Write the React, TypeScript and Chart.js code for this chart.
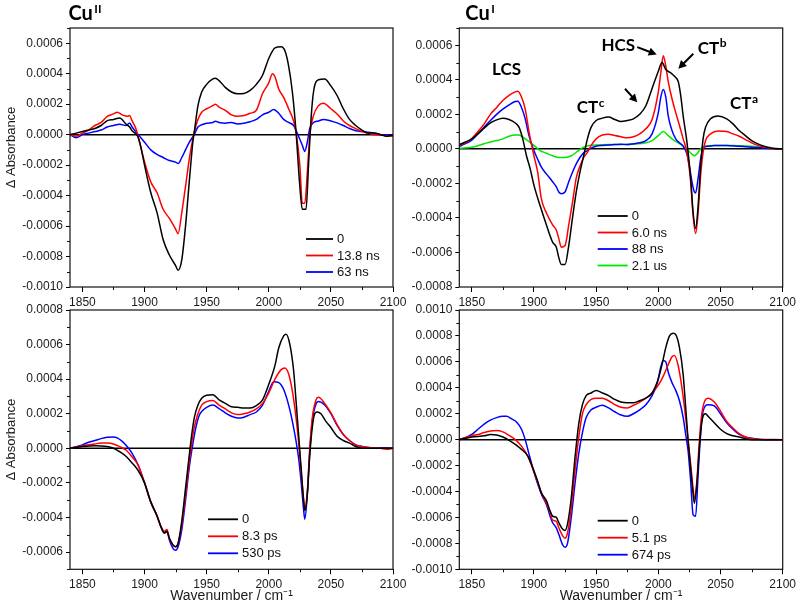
import React, { useEffect, useRef } from 'react';
import { Chart, registerables } from 'chart.js';

Chart.register(...registerables);

const SANS = '"Liberation Sans", Arial, sans-serif';
const BOLD = 'Lato, "Liberation Sans", sans-serif';

// ---------- axis ticks ----------
const xTickValues = [1850, 1900, 1950, 2000, 2050, 2100];
const xMinorValues = [1875, 1925, 1975, 2025, 2075];
const yTicksCuIIns = [-0.001, -0.0008, -0.0006, -0.0004, -0.0002, 0, 0.0002, 0.0004, 0.0006];
const yTicksCuIns = [-0.0008, -0.0006, -0.0004, -0.0002, 0, 0.0002, 0.0004, 0.0006];
const yTicksCuIIps = [-0.0006, -0.0004, -0.0002, 0, 0.0002, 0.0004, 0.0006, 0.0008];
const yTicksCuIps = [-0.001, -0.0008, -0.0006, -0.0004, -0.0002, 0, 0.0002, 0.0004, 0.0006, 0.0008, 0.001];

// ---------- Cu(II), ns (top left) ----------
const cuIIns0 = [[1840,0],[1845,0.00001],[1850,0.00002],[1855,0.00003],[1860,0.00004],[1865,0.00006],[1870,0.000092],[1875,0.0001],[1880,0.00011],[1885,0.00007],[1888,0.00005],[1890,0.000025],[1893,0.000005],[1895,-0.00002],[1897,-0.00008],[1900,-0.0002],[1905,-0.00038],[1910,-0.00051],[1915,-0.00069],[1920,-0.00079],[1925,-0.00086],[1927,-0.00089],[1930,-0.00082],[1933,-0.0006],[1936,-0.00031],[1939,-0.00004],[1940,0.000015],[1943,0.00019],[1946,0.00028],[1950,0.00033],[1955,0.000366],[1957,0.00037],[1960,0.000355],[1965,0.00031],[1970,0.00028],[1975,0.000268],[1980,0.00027],[1985,0.00029],[1990,0.00033],[1995,0.00039],[2000,0.0005],[2005,0.00057],[2010,0.000577],[2013,0.00055],[2016,0.00045],[2019,0.00028],[2022,0.000015],[2025,-0.00034],[2027,-0.00049],[2030,-0.00049],[2032,-0.0002],[2034,0.0001],[2036,0.00028],[2040,0.00036],[2045,0.000366],[2050,0.00032],[2055,0.000257],[2060,0.00017],[2065,0.0001],[2070,0.00006],[2075,0.00003],[2080,0.00001],[2085,0.00001],[2090,0],[2095,-0.00001],[2100,0]];
const cuIIns13 = [[1840,0],[1845,-0.00001],[1850,0.00001],[1855,0.00003],[1860,0.00006],[1865,0.00008],[1870,0.00012],[1875,0.000136],[1878,0.000147],[1882,0.00013],[1886,0.00012],[1888,0.000125],[1890,0.00009],[1893,0.00004],[1896,-0.00005],[1900,-0.00018],[1905,-0.00031],[1910,-0.00038],[1915,-0.00049],[1920,-0.00055],[1925,-0.00062],[1927,-0.00065],[1930,-0.00051],[1933,-0.00034],[1936,-0.00016],[1940,0.000015],[1943,0.0001],[1946,0.000147],[1950,0.00017],[1955,0.00019],[1957,0.0002],[1960,0.00018],[1965,0.00016],[1970,0.00013],[1975,0.00012],[1980,0.000125],[1985,0.00014],[1990,0.00016],[1995,0.00027],[2000,0.00034],[2003,0.0004],[2005,0.00038],[2008,0.0003],[2012,0.000245],[2016,0.00017],[2020,0.00009],[2022,0.000015],[2025,-0.0002],[2027,-0.00045],[2029,-0.00045],[2031,-0.00025],[2033,-0.000007],[2036,0.000125],[2040,0.00019],[2044,0.000206],[2050,0.00017],[2055,0.000136],[2060,0.00009],[2065,0.00006],[2070,0.00004],[2075,0.00002],[2080,0.00001],[2085,0],[2090,0],[2095,-0.00001],[2100,-0.00001]];
const cuIIns63 = [[1840,0],[1845,-0.00002],[1850,0],[1855,0.00001],[1860,0.00002],[1865,0.00003],[1870,0.00005],[1875,0.00006],[1880,0.000068],[1885,0.00006],[1888,0.000077],[1890,0.00005],[1895,0],[1900,-0.00005],[1905,-0.0001],[1910,-0.00013],[1915,-0.00015],[1920,-0.00017],[1925,-0.00018],[1927,-0.00019],[1930,-0.00015],[1933,-0.0001],[1936,-0.00005],[1940,0],[1943,0.00005],[1946,0.000065],[1950,0.000075],[1955,0.00008],[1957,0.000088],[1960,0.00008],[1965,0.000075],[1970,0.00008],[1975,0.00007],[1980,0.000075],[1985,0.000085],[1990,0.0001],[1995,0.00013],[2000,0.000147],[2004,0.000165],[2008,0.00014],[2012,0.0001],[2016,0.00008],[2020,0.00006],[2022,0.000026],[2025,-0.00003],[2027,-0.00007],[2029,-0.00011],[2031,-0.00005],[2033,0.00004],[2036,0.00008],[2040,0.00009],[2044,0.0001],[2050,0.00009],[2055,0.000077],[2060,0.00006],[2065,0.00004],[2070,0.000026],[2075,0.00002],[2080,0.000015],[2085,0.00001],[2090,0],[2100,0]];

// ---------- Cu(I), ns (top right) ----------
const cuIns0 = [[1840,0.000025],[1845,0.00004],[1850,0.000058],[1855,0.000087],[1860,0.00012],[1865,0.00015],[1870,0.000168],[1875,0.000178],[1880,0.00017],[1885,0.00015],[1888,0.000126],[1891,0.000058],[1894,-0.00004],[1897,-0.000116],[1900,-0.00021],[1905,-0.00033],[1910,-0.00044],[1915,-0.00054],[1918,-0.00057],[1920,-0.00063],[1922,-0.00067],[1925,-0.00067],[1928,-0.00056],[1931,-0.0004],[1934,-0.00025],[1937,-0.000135],[1940,-0.00004],[1943,0.000058],[1946,0.000126],[1950,0.000164],[1955,0.000178],[1960,0.000184],[1965,0.00017],[1970,0.000158],[1975,0.000164],[1980,0.000174],[1985,0.0002],[1990,0.00025],[1995,0.00035],[2000,0.00045],[2003,0.0005],[2006,0.00046],[2010,0.00044],[2013,0.00042],[2016,0.00039],[2018,0.00031],[2020,0.00019],[2023,0.00004],[2026,-0.00017],[2028,-0.00037],[2030,-0.00046],[2032,-0.00033],[2034,-0.0001],[2036,0.000058],[2038,0.000126],[2042,0.000174],[2048,0.00019],[2055,0.000174],[2060,0.000145],[2065,0.000106],[2070,0.000077],[2075,0.000048],[2080,0.000029],[2085,0.000015],[2090,0.000006],[2095,0],[2100,0]];
const cuIns6 = [[1840,0.00002],[1845,0.000035],[1850,0.00006],[1855,0.0001],[1860,0.000145],[1865,0.0002],[1870,0.00024],[1875,0.00028],[1880,0.00031],[1885,0.00033],[1887,0.000334],[1890,0.0003],[1893,0.00023],[1896,0.0001],[1900,-0.00004],[1903,-0.000135],[1906,-0.00029],[1910,-0.00037],[1915,-0.00044],[1918,-0.00047],[1920,-0.00052],[1922,-0.00057],[1925,-0.00056],[1928,-0.00044],[1931,-0.00031],[1934,-0.00017],[1937,-0.0001],[1940,-0.00005],[1943,-0.00002],[1946,0.00002],[1950,0.000058],[1955,0.00008],[1960,0.000085],[1965,0.000077],[1970,0.00007],[1975,0.000064],[1980,0.00007],[1985,0.000087],[1990,0.000116],[1995,0.00017],[2000,0.00033],[2002,0.00044],[2004,0.00054],[2006,0.00048],[2008,0.00039],[2011,0.00029],[2014,0.00021],[2017,0.000135],[2020,0.000058],[2023,-0.00002],[2026,-0.00019],[2028,-0.00039],[2030,-0.00049],[2032,-0.00037],[2034,-0.000155],[2036,-0.00002],[2038,0.000048],[2042,0.000087],[2048,0.000104],[2055,0.0001],[2060,0.000087],[2065,0.000073],[2070,0.000054],[2075,0.000035],[2080,0.00002],[2085,0.00001],[2090,0.000004],[2100,0]];
const cuIns88 = [[1840,0.000015],[1845,0.00003],[1850,0.00005],[1855,0.000087],[1860,0.000126],[1865,0.000164],[1870,0.0002],[1875,0.00023],[1880,0.000255],[1885,0.000274],[1887,0.000276],[1890,0.00024],[1893,0.000174],[1896,0.000077],[1900,-0.00001],[1903,-0.00006],[1906,-0.000106],[1910,-0.000145],[1915,-0.00019],[1918,-0.00022],[1920,-0.00025],[1922,-0.00026],[1925,-0.00025],[1928,-0.00019],[1931,-0.000135],[1934,-0.000087],[1937,-0.00005],[1940,-0.000023],[1943,-0.00001],[1946,0.000004],[1950,0.000015],[1955,0.00002],[1960,0.000023],[1965,0.000025],[1970,0.000027],[1975,0.000025],[1980,0.00003],[1985,0.000035],[1990,0.000048],[1995,0.000087],[2000,0.00021],[2002,0.0003],[2004,0.000344],[2006,0.0003],[2008,0.00019],[2011,0.000106],[2014,0.000058],[2017,0.000035],[2020,0.000015],[2023,-0.00003],[2025,-0.0001],[2027,-0.00019],[2029,-0.00025],[2030,-0.000255],[2032,-0.00017],[2034,-0.00006],[2036,0.000004],[2040,0.000015],[2045,0.00002],[2055,0.00002],[2065,0.000015],[2075,0.00001],[2085,0.000004],[2100,0]];
const cuIns2100 = [[1840,0.000004],[1850,0.00001],[1860,0.00003],[1865,0.00004],[1870,0.000048],[1875,0.000058],[1880,0.000073],[1885,0.00008],[1888,0.00008],[1890,0.000073],[1895,0.000048],[1900,0.00002],[1905,-0.00001],[1910,-0.000025],[1915,-0.00004],[1920,-0.00005],[1925,-0.00005],[1930,-0.00004],[1935,-0.000015],[1940,0.00001],[1945,0.00002],[1950,0.000023],[1960,0.000025],[1970,0.000025],[1980,0.000027],[1990,0.000035],[1995,0.000048],[2000,0.000077],[2004,0.0001],[2008,0.000077],[2012,0.000052],[2016,0.000035],[2020,0.000015],[2024,-0.00001],[2027,-0.00003],[2029,-0.00004],[2031,-0.00003],[2034,0],[2037,0.000015],[2045,0.00002],[2060,0.00002],[2075,0.000015],[2085,0.000008],[2100,0]];

// ---------- Cu(II), ps (bottom left) ----------
const cuIIps0 = [[1840,0],[1850,0.00001],[1860,0.000015],[1870,0.00001],[1875,0],[1880,-0.00002],[1885,-0.000046],[1890,-0.000085],[1895,-0.00013],[1900,-0.0002],[1905,-0.00031],[1910,-0.00039],[1913,-0.00045],[1916,-0.00049],[1918,-0.00048],[1920,-0.00052],[1923,-0.00056],[1925,-0.00057],[1927,-0.00055],[1930,-0.00042],[1933,-0.00023],[1936,-0.00004],[1938,0.00008],[1940,0.000175],[1943,0.00025],[1946,0.00029],[1950,0.000307],[1955,0.00031],[1960,0.00028],[1965,0.00026],[1970,0.00024],[1975,0.000237],[1980,0.000233],[1985,0.000233],[1990,0.000247],[1995,0.00028],[2000,0.00037],[2005,0.00048],[2008,0.00058],[2012,0.00065],[2014,0.00066],[2017,0.0006],[2020,0.00045],[2022,0.00027],[2024,0.00008],[2026,-0.00011],[2028,-0.0003],[2029,-0.00036],[2031,-0.00027],[2033,-0.00004],[2035,0.00012],[2037,0.0002],[2039,0.00021],[2042,0.0002],[2046,0.000156],[2050,0.00012],[2055,0.00007],[2060,0.000045],[2065,0.00003],[2070,0.00001],[2075,0],[2085,0],[2100,0]];
const cuIIps8 = [[1840,0],[1850,0.000015],[1860,0.000025],[1865,0.00003],[1870,0.00003],[1875,0.000025],[1880,0.00001],[1885,-0.00001],[1890,-0.00005],[1895,-0.0001],[1900,-0.0002],[1905,-0.00031],[1910,-0.00039],[1913,-0.00045],[1916,-0.00048],[1918,-0.00047],[1920,-0.00052],[1923,-0.00056],[1925,-0.00057],[1927,-0.00055],[1930,-0.00044],[1933,-0.00027],[1936,-0.00008],[1938,0.00003],[1940,0.00012],[1943,0.0002],[1946,0.00025],[1950,0.00027],[1955,0.000276],[1960,0.00025],[1965,0.000228],[1970,0.000205],[1975,0.000195],[1980,0.0002],[1985,0.00021],[1990,0.000228],[1995,0.00026],[2000,0.00032],[2005,0.0004],[2010,0.000455],[2013,0.000465],[2016,0.00043],[2019,0.00033],[2022,0.000175],[2024,0.00004],[2026,-0.00013],[2028,-0.00029],[2029,-0.00035],[2031,-0.00025],[2033,0],[2035,0.000175],[2038,0.00028],[2040,0.000295],[2045,0.00026],[2050,0.000205],[2055,0.000137],[2060,0.00008],[2065,0.000045],[2070,0.00002],[2075,0.00001],[2080,0.000005],[2090,0],[2095,-0.000005],[2100,0]];
const cuIIps530 = [[1840,0],[1850,0.00002],[1855,0.000035],[1860,0.000045],[1865,0.000056],[1870,0.000064],[1875,0.000066],[1878,0.00006],[1882,0.00004],[1886,0.00001],[1890,-0.00003],[1895,-0.0001],[1900,-0.0002],[1905,-0.00031],[1910,-0.00039],[1913,-0.00045],[1916,-0.00049],[1918,-0.00048],[1920,-0.00053],[1923,-0.00058],[1925,-0.00059],[1927,-0.00057],[1930,-0.00047],[1933,-0.0003],[1936,-0.00011],[1939,0.00003],[1941,0.00011],[1944,0.00019],[1947,0.00022],[1950,0.000237],[1955,0.00025],[1960,0.00023],[1965,0.000205],[1970,0.000185],[1975,0.000175],[1980,0.00018],[1985,0.000195],[1990,0.00021],[1995,0.00025],[2000,0.00033],[2004,0.000385],[2008,0.00038],[2012,0.00034],[2016,0.00025],[2019,0.000156],[2022,0.00004],[2024,-0.000056],[2026,-0.00019],[2028,-0.00035],[2029,-0.00041],[2031,-0.00027],[2033,-0.00002],[2035,0.000156],[2038,0.000257],[2040,0.00027],[2045,0.00025],[2050,0.0002],[2055,0.000133],[2060,0.00008],[2065,0.000045],[2070,0.00002],[2075,0.00001],[2080,0.000005],[2100,0]];

// ---------- Cu(I), ps (bottom right) ----------
const cuIps0 = [[1840,0],[1850,0.00002],[1860,0.00003],[1865,0.00004],[1870,0.000036],[1875,0.00002],[1880,-0.000005],[1885,-0.000036],[1890,-0.000075],[1895,-0.000126],[1900,-0.00024],[1903,-0.00032],[1906,-0.00041],[1910,-0.00047],[1913,-0.00055],[1915,-0.00059],[1918,-0.0006],[1920,-0.00064],[1923,-0.00069],[1925,-0.0007],[1927,-0.00065],[1930,-0.00045],[1933,-0.00014],[1936,0.00012],[1939,0.00027],[1942,0.00034],[1946,0.00036],[1950,0.00038],[1955,0.00036],[1960,0.00034],[1965,0.00031],[1970,0.00029],[1975,0.000285],[1980,0.000285],[1985,0.0003],[1990,0.00032],[1995,0.00036],[2000,0.00047],[2003,0.00058],[2006,0.00071],[2009,0.0008],[2012,0.00082],[2014,0.00081],[2017,0.00071],[2020,0.0005],[2022,0.00025],[2024,-0.00001],[2026,-0.00022],[2028,-0.00042],[2029,-0.00049],[2031,-0.00034],[2033,-0.00006],[2035,0.00014],[2038,0.0002],[2040,0.00018],[2045,0.00013],[2050,0.00008],[2055,0.000046],[2060,0.00003],[2065,0.00002],[2070,0.000008],[2075,0],[2100,0]];
const cuIps5 = [[1840,0],[1850,0.00003],[1855,0.00004],[1860,0.000055],[1865,0.000067],[1870,0.00007],[1875,0.00006],[1880,0.000033],[1885,0],[1890,-0.00005],[1895,-0.000126],[1900,-0.00025],[1903,-0.00033],[1906,-0.00041],[1910,-0.00049],[1913,-0.00056],[1915,-0.00062],[1918,-0.00063],[1920,-0.00068],[1923,-0.00074],[1925,-0.00076],[1927,-0.00072],[1930,-0.00053],[1933,-0.00024],[1936,0.000015],[1939,0.0002],[1942,0.00027],[1946,0.00031],[1950,0.00032],[1955,0.00032],[1960,0.0003],[1965,0.00027],[1970,0.00025],[1975,0.000245],[1980,0.000265],[1985,0.00029],[1990,0.00032],[1995,0.00036],[2000,0.00042],[2004,0.00049],[2008,0.00058],[2011,0.00064],[2013,0.00065],[2016,0.00057],[2019,0.0004],[2022,0.00017],[2024,-0.00001],[2026,-0.00019],[2028,-0.00038],[2029,-0.00045],[2031,-0.00032],[2033,-0.00001],[2035,0.0002],[2038,0.00031],[2040,0.00032],[2045,0.00029],[2050,0.00022],[2055,0.00014],[2060,0.00009],[2065,0.000046],[2070,0.00002],[2075,0.000008],[2080,0.000004],[2100,0]];
const cuIps674 = [[1840,0],[1845,0.000015],[1850,0.00004],[1855,0.00008],[1860,0.00012],[1865,0.00015],[1870,0.00017],[1875,0.00018],[1878,0.00018],[1882,0.00016],[1886,0.000136],[1890,0.00008],[1893,0],[1896,-0.00011],[1900,-0.00025],[1903,-0.00034],[1906,-0.00042],[1910,-0.0005],[1913,-0.00059],[1915,-0.00064],[1918,-0.00068],[1920,-0.00073],[1923,-0.00081],[1925,-0.00083],[1927,-0.0008],[1930,-0.0006],[1933,-0.00034],[1936,-0.00011],[1939,0.000054],[1942,0.00017],[1946,0.00023],[1950,0.00025],[1955,0.000265],[1960,0.000245],[1965,0.000215],[1970,0.00019],[1975,0.00018],[1980,0.0002],[1985,0.00023],[1990,0.00027],[1995,0.00034],[1999,0.00043],[2002,0.00056],[2004,0.00061],[2006,0.0006],[2008,0.00052],[2011,0.00044],[2014,0.00038],[2017,0.0003],[2020,0.00017],[2022,0.00004],[2024,-0.00009],[2026,-0.00032],[2028,-0.00058],[2030,-0.00059],[2032,-0.00027],[2034,0.00004],[2036,0.00022],[2040,0.00027],[2045,0.00026],[2050,0.0002],[2055,0.00013],[2060,0.00008],[2065,0.00004],[2070,0.00002],[2075,0.00001],[2085,0],[2100,0]];

const BLACK = '#000000';
const RED = '#ff0000';
const BLUE = '#0000ff';
const GREEN = '#00e600';

const cuINotes = {
  texts: [
    { text: 'LCS', sup: '', x: 1878, y: 0.00046, align: 'center' },
    { text: 'HCS', sup: '', x: 1967.8, y: 0.0006, align: 'center' },
    { text: 'CT', sup: 'c', x: 1934.4, y: 0.000237, align: 'left' },
    { text: 'CT', sup: 'b', x: 2031.7, y: 0.000584, align: 'left' },
    { text: 'CT', sup: 'a', x: 2057.6, y: 0.000261, align: 'left' },
  ],
  arrows: [
    [1983.1, 0.000589, 1998.7, 0.000547],
    [2028.1, 0.000551, 2016.1, 0.000464],
    [1973.2, 0.000348, 1983.1, 0.00027],
  ],
};

const panels = [
  {
    key: 'tl', area: { left: 70, top: 28, right: 393, bottom: 287 }, padLeft: 0, xAxisH: 30,
    yMin: -0.001, yMax: 0.0007, yTicks: yTicksCuIIns, yTitle: 'Δ Absorbance', yTitleShift: -10, xTitle: '',
    title: { main: 'Cu', sup: 'II', dx: -1.5, dy: -8 },
    legend: { dx: 236, dy: 211, gap: 16.5, len: 27 },
    series: [
      { label: '0', color: BLACK, data: cuIIns0 },
      { label: '13.8 ns', color: RED, data: cuIIns13 },
      { label: '63 ns', color: BLUE, data: cuIIns63 },
    ],
    notes: null,
  },
  {
    key: 'tr', area: { left: 459.3, top: 28, right: 782.7, bottom: 287 }, padLeft: 400, xAxisH: 30,
    yMin: -0.0008, yMax: 0.0007, yTicks: yTicksCuIns, yTitle: '', yTitleShift: 0, xTitle: '',
    title: { main: 'Cu', sup: 'I', dx: 6, dy: -8 },
    legend: { dx: 138.4, dy: 188, gap: 16.5, len: 30 },
    series: [
      { label: '0', color: BLACK, data: cuIns0 },
      { label: '6.0 ns', color: RED, data: cuIns6 },
      { label: '88 ns', color: BLUE, data: cuIns88 },
      { label: '2.1 us', color: GREEN, data: cuIns2100 },
    ],
    notes: cuINotes,
  },
  {
    key: 'bl', area: { left: 70, top: 310, right: 393, bottom: 569.3 }, padLeft: 0, xAxisH: 38.5,
    yMin: -0.0007, yMax: 0.0008, yTicks: yTicksCuIIps, yTitle: 'Δ Absorbance', yTitleShift: 0, xTitle: 'Wavenumber / cm\u207B\u00B9',
    title: null,
    legend: { dx: 138, dy: 209.3, gap: 17, len: 30 },
    series: [
      { label: '0', color: BLACK, data: cuIIps0 },
      { label: '8.3 ps', color: RED, data: cuIIps8 },
      { label: '530 ps', color: BLUE, data: cuIIps530 },
    ],
    notes: null,
  },
  {
    key: 'br', area: { left: 459.3, top: 310, right: 782.7, bottom: 569.3 }, padLeft: 400, xAxisH: 38.5,
    yMin: -0.001, yMax: 0.001, yTicks: yTicksCuIps, yTitle: '', yTitleShift: 0, xTitle: 'Wavenumber / cm\u207B\u00B9',
    title: null,
    legend: { dx: 138.4, dy: 210.7, gap: 17, len: 30 },
    series: [
      { label: '0', color: BLACK, data: cuIps0 },
      { label: '5.1 ps', color: RED, data: cuIps5 },
      { label: '674 ps', color: BLUE, data: cuIps674 },
    ],
    notes: null,
  },
];

function minorYValues(p: any) {
  const out: number[] = [];
  const lo = Math.ceil(p.yMin / 0.0001 - 1e-6);
  const hi = Math.floor(p.yMax / 0.0001 + 1e-6);
  for (let k = lo; k <= hi; k++) {
    if (Math.abs(k % 2) === 1) out.push(k * 0.0001);
  }
  return out;
}

function drawArrow(ctx: CanvasRenderingContext2D, x1: number, y1: number, x2: number, y2: number) {
  const ang = Math.atan2(y2 - y1, x2 - x1);
  const L = 8, W = 4.2;
  const c = Math.cos(ang), s = Math.sin(ang);
  ctx.lineWidth = 2;
  ctx.beginPath();
  ctx.moveTo(x1, y1);
  ctx.lineTo(x2 - c * (L - 1), y2 - s * (L - 1));
  ctx.stroke();
  ctx.beginPath();
  ctx.moveTo(x2, y2);
  ctx.lineTo(x2 - L * c + W * s, y2 - L * s - W * c);
  ctx.lineTo(x2 - L * c - W * s, y2 - L * s + W * c);
  ctx.closePath();
  ctx.fill();
}

function makePlugin(p: any) {
  return {
    id: 'panelDecor',
    beforeDatasetsDraw(chart: any) {
      const { ctx, chartArea: a, scales } = chart;
      const y0 = scales.y.getPixelForValue(0);
      ctx.save();
      ctx.strokeStyle = '#000';
      ctx.lineWidth = 1.5;
      ctx.beginPath();
      ctx.moveTo(a.left, y0);
      ctx.lineTo(a.right, y0);
      ctx.stroke();
      ctx.restore();
    },
    afterDraw(chart: any) {
      const { ctx, chartArea: a, scales } = chart;
      const x = scales.x, y = scales.y;
      ctx.save();
      // frame
      ctx.strokeStyle = '#111';
      ctx.lineWidth = 1.2;
      ctx.strokeRect(a.left, a.top, a.right - a.left, a.bottom - a.top);
      // minor ticks
      ctx.lineWidth = 1;
      ctx.beginPath();
      minorYValues(p).forEach((v) => {
        const py = Math.round(y.getPixelForValue(v)) + 0.5;
        ctx.moveTo(a.left - 3, py);
        ctx.lineTo(a.left, py);
      });
      xMinorValues.forEach((v) => {
        const px = Math.round(x.getPixelForValue(v)) + 0.5;
        ctx.moveTo(px, a.bottom);
        ctx.lineTo(px, a.bottom + 3);
      });
      ctx.stroke();
      // y-axis title
      if (p.yTitle) {
        ctx.save();
        ctx.translate(y.left + 11.8, (a.top + a.bottom) / 2 + p.yTitleShift);
        ctx.rotate(-Math.PI / 2);
        ctx.font = '13px ' + SANS;
        ctx.fillStyle = '#1a1a1a';
        ctx.textAlign = 'center';
        ctx.textBaseline = 'middle';
        ctx.fillText(p.yTitle, 0, 0);
        ctx.restore();
      }
      // legend
      ctx.font = '13px ' + SANS;
      ctx.textBaseline = 'middle';
      ctx.textAlign = 'left';
      p.series.forEach((s: any, i: number) => {
        const ly = a.top + p.legend.dy + i * p.legend.gap;
        const lx = a.left + p.legend.dx;
        ctx.strokeStyle = s.color;
        ctx.lineWidth = 1.8;
        ctx.beginPath();
        ctx.moveTo(lx, ly);
        ctx.lineTo(lx + p.legend.len, ly);
        ctx.stroke();
        ctx.fillStyle = '#111';
        ctx.fillText(s.label, lx + p.legend.len + 4, ly + 0.5);
      });
      // panel title
      if (p.title) {
        const tx = a.left + p.title.dx;
        const ty = a.top + p.title.dy;
        ctx.fillStyle = '#000';
        ctx.textBaseline = 'alphabetic';
        ctx.font = 'bold 20px ' + BOLD;
        ctx.fillText(p.title.main, tx, ty);
        const w = ctx.measureText(p.title.main).width;
        ctx.font = 'bold 12px ' + BOLD;
        ctx.fillText(p.title.sup, tx + w + 1.5, ty - 7);
      }
      // annotations
      if (p.notes) {
        ctx.fillStyle = '#000';
        ctx.strokeStyle = '#000';
        p.notes.texts.forEach((n: any) => {
          const px = x.getPixelForValue(n.x);
          const py = y.getPixelForValue(n.y);
          ctx.font = 'bold 17px ' + BOLD;
          ctx.textBaseline = 'middle';
          const w = ctx.measureText(n.text).width;
          const left = n.align === 'center' ? px - w / 2 : px;
          ctx.textAlign = 'left';
          ctx.fillText(n.text, left, py);
          if (n.sup) {
            ctx.font = 'bold 12px ' + BOLD;
            ctx.fillText(n.sup, left + w + 0.5, py - 5);
          }
        });
        p.notes.arrows.forEach((ar: number[]) => {
          drawArrow(ctx, x.getPixelForValue(ar[0]), y.getPixelForValue(ar[1]), x.getPixelForValue(ar[2]), y.getPixelForValue(ar[3]));
        });
      }
      ctx.restore();
    },
  };
}

function buildConfig(p: any) {
  const a = p.area;
  return {
    type: 'line',
    data: {
      datasets: p.series.map((s: any) => ({
        label: s.label,
        data: s.data.map((d: number[]) => ({ x: d[0], y: d[1] })),
        borderColor: s.color,
        backgroundColor: s.color,
        borderWidth: 1.5,
        pointRadius: 0,
        fill: false,
        cubicInterpolationMode: 'monotone',
      })),
    },
    options: {
      responsive: false,
      animation: false,
      devicePixelRatio: 1,
      events: [],
      layout: {
        autoPadding: false,
        padding: {
          left: p.padLeft,
          top: a.top,
          right: 800 - a.right,
          bottom: 614 - a.bottom - p.xAxisH,
        },
      },
      plugins: {
        legend: { display: false },
        tooltip: { enabled: false },
        title: { display: false },
      },
      scales: {
        x: {
          type: 'linear',
          min: 1840,
          max: 2100,
          afterFit: (s: any) => { s.height = p.xAxisH; },
          afterBuildTicks: (s: any) => { s.ticks = xTickValues.map((v) => ({ value: v })); },
          ticks: {
            font: { family: SANS, size: 12 },
            color: '#1a1a1a',
            padding: 3,
            maxRotation: 0,
            autoSkip: false,
            callback: (v: any) => String(v),
          },
          grid: { display: true, drawOnChartArea: false, drawTicks: true, tickLength: 5, color: '#000', tickWidth: 1 },
          border: { display: false },
          title: {
            display: !!p.xTitle,
            text: p.xTitle,
            font: { family: SANS, size: 14 },
            color: '#1a1a1a',
            padding: { top: 0, bottom: 3 },
          },
        },
        y: {
          type: 'linear',
          min: p.yMin,
          max: p.yMax,
          afterFit: (s: any) => { s.width = a.left - p.padLeft; },
          afterBuildTicks: (s: any) => { s.ticks = p.yTicks.map((v: number) => ({ value: v })); },
          ticks: {
            font: { family: SANS, size: 12 },
            color: '#1a1a1a',
            padding: 3,
            autoSkip: false,
            callback: (v: any) => Number(v).toFixed(4),
          },
          grid: { display: true, drawOnChartArea: false, drawTicks: true, tickLength: 4, color: '#000', tickWidth: 1 },
          border: { display: false },
          title: { display: false },
        },
      },
    },
    plugins: [makePlugin(p)],
  };
}

function Panel({ p }: { p: any }) {
  const ref = useRef<HTMLCanvasElement | null>(null);
  useEffect(() => {
    if (!ref.current) return;
    const chart = new Chart(ref.current, buildConfig(p) as any);
    return () => chart.destroy();
  }, [p]);
  return (
    <canvas
      ref={ref}
      width={800}
      height={614}
      style={{ position: 'absolute', left: 0, top: 0, width: 800, height: 614 }}
    />
  );
}

export default function App() {
  return (
    <div style={{ position: 'absolute', left: 0, top: 0, width: 800, height: 614, background: '#fff', overflow: 'hidden' }}>
      {panels.map((p) => (
        <Panel key={p.key} p={p} />
      ))}
    </div>
  );
}
